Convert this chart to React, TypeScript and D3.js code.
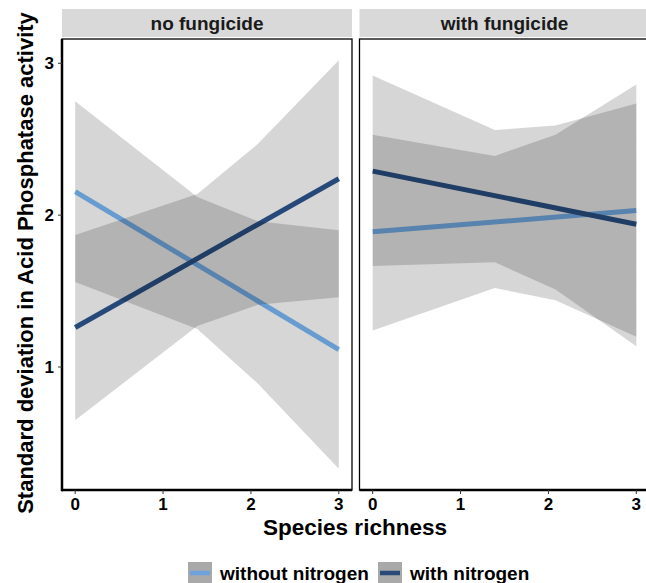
import React from 'react';
import * as d3 from 'd3';

// richness values where the confidence bands were evaluated
const bandX = [0, 1.39, 2.08, 3];
const fitX = [0, 3];

const panels = ['no fungicide', 'with fungicide'];
const groups = ['without nitrogen', 'with nitrogen'];

// no fungicide
const noFungWithoutNFit = [2.155, 1.115];
const noFungWithoutNUpper = [2.75, 2.12, 1.96, 1.9];
const noFungWithoutNLower = [1.56, 1.25, 0.89, 0.33];
const noFungWithNFit = [1.26, 2.24];
const noFungWithNUpper = [1.87, 2.14, 2.47, 3.02];
const noFungWithNLower = [0.65, 1.27, 1.41, 1.46];

// with fungicide
const fungWithoutNFit = [1.89, 2.03];
const fungWithoutNUpper = [2.53, 2.39, 2.53, 2.86];
const fungWithoutNLower = [1.24, 1.52, 1.44, 1.2];
const fungWithNFit = [2.29, 1.94];
const fungWithNUpper = [2.92, 2.56, 2.59, 2.735];
const fungWithNLower = [1.665, 1.69, 1.51, 1.136];

const xTicks = [0, 1, 2, 3];
const yTicks = [1, 2, 3];

const lineColors = ['#7dbaf8', '#2e5891'];
const keyColors = ['#6fa1dc', '#2a4a78'];

const panelData = [
  {
    fits: [noFungWithoutNFit, noFungWithNFit],
    upper: [noFungWithoutNUpper, noFungWithNUpper],
    lower: [noFungWithoutNLower, noFungWithNLower],
  },
  {
    fits: [fungWithoutNFit, fungWithNFit],
    upper: [fungWithoutNUpper, fungWithNUpper],
    lower: [fungWithoutNLower, fungWithNLower],
  },
];

const W = 646;
const H = 583;
const top = 39;
const bottom = 490;
const panelLeft = [62, 359.5];
const panelWidth = 290;
const font = "'Liberation Sans', Arial, sans-serif";

const App: React.FC = () => {
  const y = d3.scaleLinear().domain([0.19, 3.16]).range([bottom, top]);

  return (
    <svg
      width={W}
      height={H}
      style={{ position: 'absolute', left: 0, top: 0, background: '#fff' }}
      fontFamily={font}
      fontWeight="bold"
    >
      {panels.map((name, p) => {
        const x = d3
          .scaleLinear()
          .domain([-0.15, 3.15])
          .range([panelLeft[p], panelLeft[p] + panelWidth]);
        const d = panelData[p];
        const line = d3
          .line<number>()
          .x((_, i) => x(fitX[i]))
          .y((v) => y(v));
        const area = (g: number) =>
          d3
            .area<number>()
            .x((_, i) => x(bandX[i]))
            .y0((_, i) => y(d.lower[g][i]))
            .y1((v) => y(v))(d.upper[g]);
        return (
          <g key={name}>
            {/* strip */}
            <rect x={panelLeft[p]} y={9} width={panelWidth} height={28} fill="#d9d9d9" />
            <text x={panelLeft[p] + panelWidth / 2} y={30} textAnchor="middle" fontSize={19} fill="#1a1a1a">
              {name}
            </text>
            <rect x={panelLeft[p]} y={top} width={panelWidth} height={bottom - top} fill="#fff" />
            {/* fitted lines sit under the bands */}
            {groups.map((g, gi) => (
              <path key={g} d={line(d.fits[gi]) || ''} fill="none" stroke={lineColors[gi]} strokeWidth={5} />
            ))}
            {groups.map((g, gi) => (
              <path key={g + 'band'} d={area(gi) || ''} fill="#000" fillOpacity={0.16} />
            ))}
            <rect
              x={panelLeft[p]}
              y={top}
              width={panelWidth}
              height={bottom - top}
              fill="none"
              stroke="#000"
              strokeWidth={1.3}
            />
            <line x1={panelLeft[p]} x2={panelLeft[p] + panelWidth} y1={bottom} y2={bottom} stroke="#000" strokeWidth={2.5} />
            {xTicks.map((t) => (
              <g key={t}>
                <line x1={x(t)} x2={x(t)} y1={bottom} y2={bottom + 4} stroke="#333" strokeWidth={1} />
                <text x={x(t)} y={510} textAnchor="middle" fontSize={17} fill="#000">
                  {t}
                </text>
              </g>
            ))}
          </g>
        );
      })}

      {/* y axis on first panel */}
      <line x1={62} x2={62} y1={top} y2={bottom + 1.2} stroke="#000" strokeWidth={2.5} />
      {yTicks.map((t) => (
        <g key={t}>
          <line x1={58} x2={62} y1={y(t)} y2={y(t)} stroke="#333" strokeWidth={1} />
          <text x={54} y={y(t) + 6} textAnchor="end" fontSize={17} fill="#000">
            {t}
          </text>
        </g>
      ))}

      <text x={355} y={535} textAnchor="middle" fontSize={22.5} fill="#000">
        Species richness
      </text>
      <text
        transform={`translate(33,${263}) rotate(-90)`}
        textAnchor="middle"
        fontSize={22}
        fill="#000"
      >
        Standard deviation in Acid Phosphatase activity
      </text>

      {/* legend */}
      {groups.map((g, gi) => {
        const kx = gi === 0 ? 188 : 378;
        return (
          <g key={g}>
            <rect x={kx} y={562} width={24} height={23} fill="#a9a9a9" />
            <line x1={kx + 2} x2={kx + 22} y1={573} y2={573} stroke={keyColors[gi]} strokeWidth={4.5} />
            <text x={kx + 32} y={580} fontSize={19} fill="#000">
              {g}
            </text>
          </g>
        );
      })}
    </svg>
  );
};

export default App;
